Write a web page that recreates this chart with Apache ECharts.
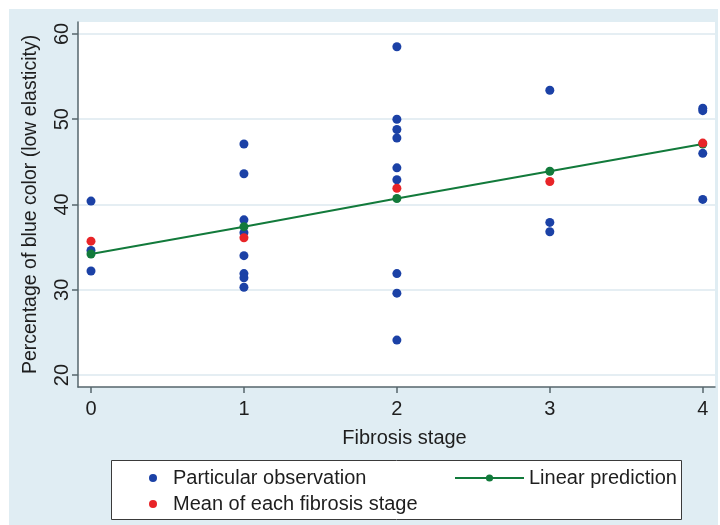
<!DOCTYPE html>
<html>
<head>
<meta charset="utf-8">
<script src="https://cdn.jsdelivr.net/npm/echarts@6/dist/echarts.min.js"></script>
<style>
html, body { margin: 0; padding: 0; background: #fff; }
#chart { width: 720px; height: 525px; }
</style>
</head>
<body>
<div id="chart"></div>
<script>
// fibrosis stages on the x axis
var stages = [0, 1, 2, 3, 4];
var yTicks = [20, 30, 40, 50, 60];

// individual observations, one list per stage
var obsStage0 = [40.4, 34.6, 32.2];
var obsStage1 = [47.1, 43.6, 38.2, 36.7, 34.0, 31.9, 31.4, 30.3];
var obsStage2 = [58.5, 50.0, 48.8, 47.8, 44.3, 42.9, 31.9, 29.6, 24.1];
var obsStage3 = [53.4, 37.9, 36.8];
var obsStage4 = [51.3, 51.0, 46.0, 40.6];

// mean of each stage and the fitted line
var stageMeans = [35.7, 36.1, 41.9, 42.7, 47.2];
var linearPred = [34.2, 37.4, 40.7, 43.9, 47.1];

var obsLists = [obsStage0, obsStage1, obsStage2, obsStage3, obsStage4];
var obsData = [];
obsLists.forEach(function (list, i) {
	list.forEach(function (v) {
		obsData.push([stages[i], v]);
	});
});
var meanData = stages.map(function (s, i) { return [s, stageMeans[i]]; });
var predData = stages.map(function (s, i) { return [s, linearPred[i]]; });

var font = 'Liberation Sans, Arial, sans-serif';
var txt = '#1e1e1e';
var axisCol = '#56666c';

var myChart = echarts.init(document.getElementById('chart'));
var option = {
	backgroundColor: '#ffffff',
	animation: false,
	textStyle: { fontFamily: font },
	graphic: [
		{ type: 'rect', z: -10, shape: { x: 9, y: 9, width: 709, height: 516 }, style: { fill: '#e0edf3' } },
		{ type: 'rect', z: 1, shape: { x: 111.5, y: 460.5, width: 570, height: 59 }, style: { fill: '#ffffff', stroke: '#3a3a3a', lineWidth: 1 } }
	],
	grid: {
		left: 78, right: 5, top: 22, bottom: 138,
		show: true, backgroundColor: '#ffffff', borderWidth: 0
	},
	legend: [
		{
			data: ['Particular observation', 'Mean of each fibrosis stage'],
			orient: 'vertical',
			left: 144, top: 462,
			itemWidth: 30, itemHeight: 8, itemGap: 4,
			icon: 'circle',
			textStyle: { fontSize: 20, color: txt, fontFamily: font, lineHeight: 22 }
		},
		{
			data: ['Linear prediction'],
			left: 449, top: 462,
			itemWidth: 69, itemHeight: 9,
			textStyle: { fontSize: 20, color: txt, fontFamily: font, lineHeight: 22 }
		}
	],
	xAxis: {
		type: 'value',
		min: -0.085, max: 4.08,
		name: 'Fibrosis stage',
		nameLocation: 'middle',
		nameGap: 41,
		nameTextStyle: { fontSize: 20, color: txt, padding: [0, 0, 0, 16] },
		axisLine: { onZero: false, lineStyle: { color: axisCol, width: 1.5 } },
		axisTick: { show: true, length: 6, customValues: stages, lineStyle: { color: axisCol, width: 1.5 } },
		axisLabel: { customValues: stages, fontSize: 20, color: txt, margin: 12 },
		splitLine: { show: false }
	},
	yAxis: {
		type: 'value',
		min: 18.6, max: 61.4,
		name: 'Percentage of blue color (low elasticity)',
		nameLocation: 'middle',
		nameRotate: 90,
		nameGap: 37,
		nameTextStyle: { fontSize: 19.5, color: txt },
		axisLine: { show: true, onZero: false, lineStyle: { color: axisCol, width: 1.5 } },
		axisTick: { show: true, length: 6, customValues: yTicks, lineStyle: { color: axisCol, width: 1.5 } },
		axisLabel: { customValues: yTicks, rotate: 90, fontSize: 20, color: txt, margin: 6 },
		splitLine: { show: true, lineStyle: { color: '#dde9ef', width: 1.5 } }
	},
	series: [
		{
			name: 'Particular observation',
			type: 'scatter',
			data: obsData,
			symbolSize: 9,
			itemStyle: { color: '#1b41a6', opacity: 1 },
			z: 2
		},
		{
			name: 'Linear prediction',
			type: 'line',
			data: predData,
			symbol: 'circle',
			symbolSize: 9,
			showAllSymbol: true,
			lineStyle: { color: '#127a3b', width: 2 },
			itemStyle: { color: '#127a3b' },
			z: 3
		},
		{
			name: 'Mean of each fibrosis stage',
			type: 'scatter',
			data: meanData,
			symbolSize: 9,
			itemStyle: { color: '#e82428', opacity: 1 },
			z: 4
		}
	]
};
myChart.setOption(option);
</script>
</body>
</html>
